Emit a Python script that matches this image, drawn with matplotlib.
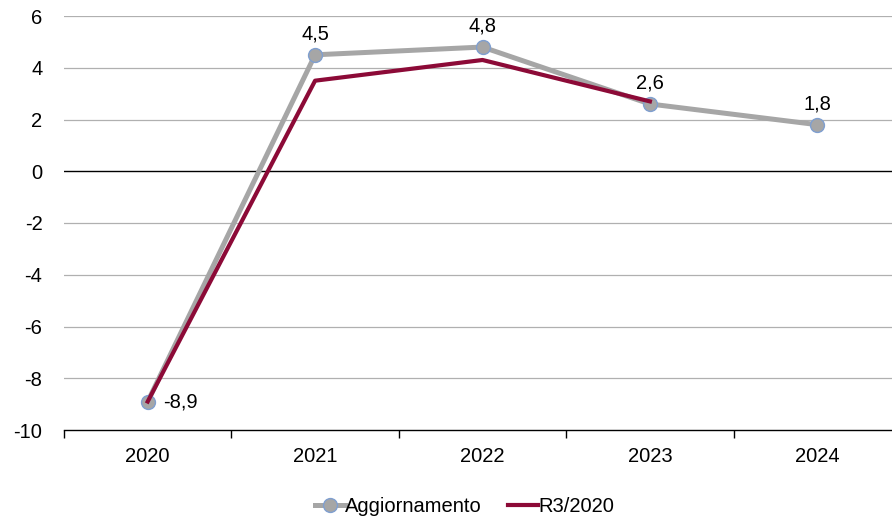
import matplotlib
matplotlib.use("Agg")
import matplotlib.pyplot as plt
import numpy as np

plt.rcParams['font.family'] = ['Liberation Sans', 'DejaVu Sans']

years = ["2020", "2021", "2022", "2023", "2024"]
aggiornamento = [-8.9, 4.5, 4.8, 2.6, 1.8]
r3_2020 = [-8.9, 3.5, 4.3, 2.7]
labels = ["-8,9", "4,5", "4,8", "2,6", "1,8"]

FS = 14.5

fig = plt.figure(figsize=(8.92, 5.19), dpi=100)
ax = fig.add_axes([64/892, (519-430)/519, 837/892, (430-16)/519])

x = np.arange(len(years))
ax.set_xlim(-0.5, 4.5)
ax.set_ylim(-10, 6)

for yv in range(-8, 7, 2):
    if yv != 0:
        ax.axhline(yv, color='#b0b0b0', lw=0.9, zorder=0)
ax.axhline(0, color='black', lw=1.0, zorder=1)

ax.plot(x, aggiornamento, color='#a6a6a6', lw=3.6, marker='o', markersize=10,
        markerfacecolor='#a6a6a6', markeredgecolor='#7f9fd0', markeredgewidth=1.0,
        label='Aggiornamento', zorder=3)
ax.plot(x[:len(r3_2020)], r3_2020, color='#8c0a37', lw=3, label='R3/2020', zorder=4)

for i, (v, t) in enumerate(zip(aggiornamento, labels)):
    if i == 0:
        ax.annotate(t, (x[i], v), xytext=(11, 0), textcoords='offset points',
                    ha='left', va='center', fontsize=FS)
    else:
        ax.annotate(t, (x[i], v), xytext=(0, 8), textcoords='offset points',
                    ha='center', va='bottom', fontsize=FS)

for s in ['top', 'right', 'left']:
    ax.spines[s].set_visible(False)
ax.spines['bottom'].set_color('black')
ax.spines['bottom'].set_linewidth(1.0)

ax.set_yticks(range(-10, 7, 2))
ax.set_yticklabels([str(v) for v in range(-10, 7, 2)], fontsize=FS)
ax.tick_params(axis='y', length=0, pad=15.5)

ax.set_xticks(x)
ax.set_xticklabels(years, fontsize=FS)
ax.tick_params(axis='x', length=0, pad=12)
ax.set_xticks(np.arange(-0.5, 5.0, 1.0), minor=True)
ax.tick_params(axis='x', which='minor', length=6, color='black', width=1)

leg = fig.legend(loc='lower center', bbox_to_anchor=(0.521, -0.03), ncol=2, frameon=False,
                 fontsize=FS, handlelength=1.5, handletextpad=0.0, columnspacing=1.3)

fig.savefig('out.png', dpi=100)
